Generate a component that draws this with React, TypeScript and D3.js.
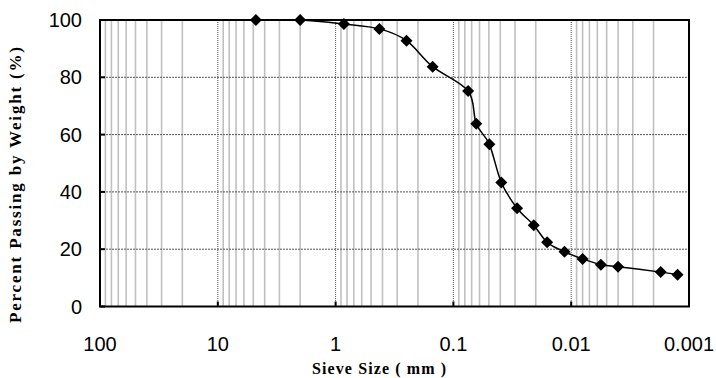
import React, { useEffect, useRef } from 'react';
import * as d3 from 'd3';

// grain size distribution (sieve + hydrometer)
const sizes = [4.75, 2.0, 0.85, 0.425, 0.25, 0.15, 0.075, 0.064, 0.0495, 0.0392, 0.0288, 0.0208, 0.016, 0.0114, 0.008, 0.0056, 0.004, 0.00174, 0.00125];
const passing = [100, 100, 98.6, 96.9, 92.8, 83.7, 75.2, 63.8, 56.6, 43.3, 34.3, 28.4, 22.4, 19.1, 16.6, 14.6, 13.9, 12.0, 11.1];

const xTicks = [100, 10, 1, 0.1, 0.01, 0.001];
const xTickLabels = ['100', '10', '1', '0.1', '0.01', '0.001'];
const yTicks = [0, 20, 40, 60, 80, 100];

const App = () => {
  const ref = useRef<SVGSVGElement>(null);

  useEffect(() => {
    const svg = d3.select(ref.current);
    svg.selectAll('*').remove();

    const left = 100, right = 689, top = 20, bottom = 306.5;
    const x = d3.scaleLog().domain([100, 0.001]).range([left, right]);
    const y = d3.scaleLinear().domain([0, 100]).range([bottom, top]);

    const g = svg.append('g');

    // minor vertical grid
    const minors: number[] = [];
    for (let e = -3; e < 2; e++) {
      for (let m = 2; m <= 9; m++) minors.push(m * Math.pow(10, e));
    }
    g.selectAll('.minor')
      .data(minors)
      .enter()
      .append('line')
      .attr('x1', d => x(d)).attr('x2', d => x(d))
      .attr('y1', top).attr('y2', bottom)
      .attr('stroke', '#c0c0c0')
      .attr('stroke-width', 1.6);

    // decade grid
    g.selectAll('.major')
      .data(xTicks.slice(1, -1))
      .enter()
      .append('line')
      .attr('x1', d => x(d)).attr('x2', d => x(d))
      .attr('y1', top).attr('y2', bottom)
      .attr('stroke', '#555')
      .attr('stroke-width', 1)
      .attr('stroke-dasharray', '1,1');

    // horizontal grid
    g.selectAll('.hgrid')
      .data(yTicks.slice(1, -1))
      .enter()
      .append('line')
      .attr('x1', left).attr('x2', right)
      .attr('y1', d => y(d)).attr('y2', d => y(d))
      .attr('stroke', '#555')
      .attr('stroke-width', 1)
      .attr('stroke-dasharray', '2,1');

    // frame
    g.append('rect')
      .attr('x', left).attr('y', top)
      .attr('width', right - left).attr('height', bottom - top)
      .attr('fill', 'none')
      .attr('stroke', '#000')
      .attr('stroke-width', 2);

    // inside ticks
    g.selectAll('.ytick')
      .data(yTicks)
      .enter()
      .append('line')
      .attr('x1', left).attr('x2', left + 5)
      .attr('y1', d => y(d)).attr('y2', d => y(d))
      .attr('stroke', '#000').attr('stroke-width', 2);
    g.selectAll('.xtick')
      .data(xTicks)
      .enter()
      .append('line')
      .attr('x1', d => x(d)).attr('x2', d => x(d))
      .attr('y1', bottom).attr('y2', bottom - 5)
      .attr('stroke', '#000').attr('stroke-width', 2);

    // tick labels
    g.selectAll('.ylab')
      .data(yTicks)
      .enter()
      .append('text')
      .attr('x', left - 18)
      .attr('y', d => y(d) + 7)
      .attr('text-anchor', 'end')
      .attr('font-family', '"Liberation Sans", Arial, sans-serif')
      .attr('font-size', 20)
      .text(d => d);
    g.selectAll('.xlab')
      .data(xTicks)
      .enter()
      .append('text')
      .attr('x', d => x(d))
      .attr('y', 350.5)
      .attr('text-anchor', 'middle')
      .attr('font-family', '"Liberation Sans", Arial, sans-serif')
      .attr('font-size', 20)
      .text((d, i) => xTickLabels[i]);

    // axis titles
    g.append('text')
      .attr('x', 312)
      .attr('y', 374)
      .attr('textLength', 134)
      .attr('lengthAdjust', 'spacing')
      .attr('font-family', '"Liberation Serif", "Times New Roman", serif')
      .attr('font-weight', 'bold')
      .attr('font-size', 16)
      .text('Sieve Size ( mm )');
    g.append('text')
      .attr('transform', 'translate(21,323) rotate(-90)')
      .attr('textLength', 276)
      .attr('lengthAdjust', 'spacing')
      .attr('font-family', '"Liberation Serif", "Times New Roman", serif')
      .attr('font-weight', 'bold')
      .attr('font-size', 17)
      .text('Percent Passing by Weight (%)');

    const data = sizes.map((s, i) => ({ s, p: passing[i] }));

    const line = d3.line<{ s: number; p: number }>()
      .x(d => x(d.s))
      .y(d => y(d.p))
      .curve(d3.curveCardinal.tension(0));

    g.append('path')
      .datum(data)
      .attr('d', line)
      .attr('fill', 'none')
      .attr('stroke', '#000')
      .attr('stroke-width', 1.5);

    const r = 6;
    g.selectAll('.pt')
      .data(data)
      .enter()
      .append('path')
      .attr('d', d => {
        const cx = x(d.s), cy = y(d.p);
        return `M${cx},${cy - r}L${cx + r},${cy}L${cx},${cy + r}L${cx - r},${cy}Z`;
      })
      .attr('fill', '#000');
  }, []);

  return (
    <svg ref={ref} width={716} height={378} style={{ position: 'absolute', left: 0, top: 0, background: '#fff' }}></svg>
  );
};

export default App;
